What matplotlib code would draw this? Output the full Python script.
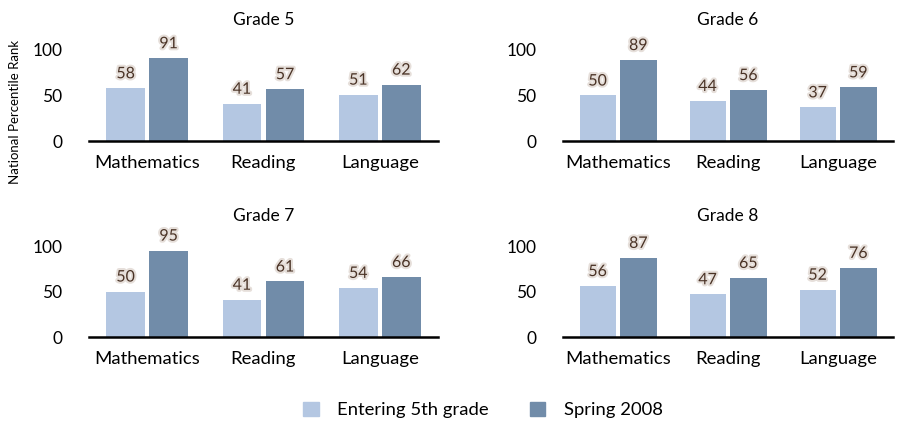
import matplotlib
matplotlib.use("Agg")
import matplotlib.pyplot as plt
import matplotlib.patheffects as pe
from matplotlib.patches import Patch

categories = ["Mathematics", "Reading", "Language"]
grades = ["Grade 5", "Grade 6", "Grade 7", "Grade 8"]
entering = [[58, 41, 51], [50, 44, 37], [50, 41, 54], [56, 47, 52]]
spring = [[91, 57, 62], [89, 56, 59], [95, 61, 66], [87, 65, 76]]
series_names = ["Entering 5th grade", "Spring 2008"]
yticks = [0, 50, 100]

light = "#b4c7e2"
dark = "#718ca9"
label_color = "#4a3326"
FONT = "Lato"
plt.rcParams["font.family"] = [FONT, "DejaVu Sans"]

W, H = 911, 423
fig = plt.figure(figsize=(W / 100, H / 100), dpi=100)

# pixel layout: (left, right, baseline)
layout = [(89, 438, 141), (563, 893, 141), (89, 438, 337), (563, 893, 337)]
px_per_unit = 0.91
ymax = 110

for i, (l, r, base) in enumerate(layout):
    h = ymax * px_per_unit
    ax = fig.add_axes([l / W, (H - base) / H, (r - l) / W, h / H])
    x = range(len(categories))
    bw = 0.33
    off = 0.185
    b1 = ax.bar([k - off for k in x], entering[i], width=bw, color=light)
    b2 = ax.bar([k + off for k in x], spring[i], width=bw, color=dark)
    for bars, vals in ((b1, entering[i]), (b2, spring[i])):
        for b, v in zip(bars, vals):
            ax.annotate(str(v), (b.get_x() + b.get_width() / 2, v),
                        xytext=(0, 5), textcoords="offset points",
                        ha="center", va="bottom", fontsize=11.5,
                        color=label_color,
                        path_effects=[pe.withStroke(linewidth=3, foreground="#e6dfda")])
    ax.set_xlim(-0.5, 2.5)
    ax.set_ylim(0, ymax)
    ax.set_yticks(yticks)
    ax.set_yticklabels([str(t) for t in yticks], fontsize=12.5)
    ax.set_xticks(list(x))
    ax.set_xticklabels(categories, fontsize=13.3)
    ax.tick_params(axis="y", length=0, pad=19)
    ax.tick_params(axis="x", length=0, pad=10)
    for s in ("top", "right", "left"):
        ax.spines[s].set_visible(False)
    ax.spines["bottom"].set_linewidth(1.8)
    ax.spines["bottom"].set_color("black")
    ax.patch.set_alpha(0)
    fig.text((l + r) / 2 / W, 1 - (base - 121) / H, grades[i], ha="center",
             va="center", fontsize=12.5)

fig.text(15 / W, 1 - 112 / H, "National Percentile Rank", rotation=90,
         ha="center", va="center", fontsize=9.5)

handles = [Patch(color=light), Patch(color=dark)]
fig.legend(handles, series_names, loc="center", bbox_to_anchor=(483 / W, 1 - 410 / H),
           ncol=2, frameon=False, fontsize=13.3, handlelength=0.85, handleheight=0.85,
           columnspacing=2.2, handletextpad=1.0)

fig.savefig("out.png", dpi=100)
